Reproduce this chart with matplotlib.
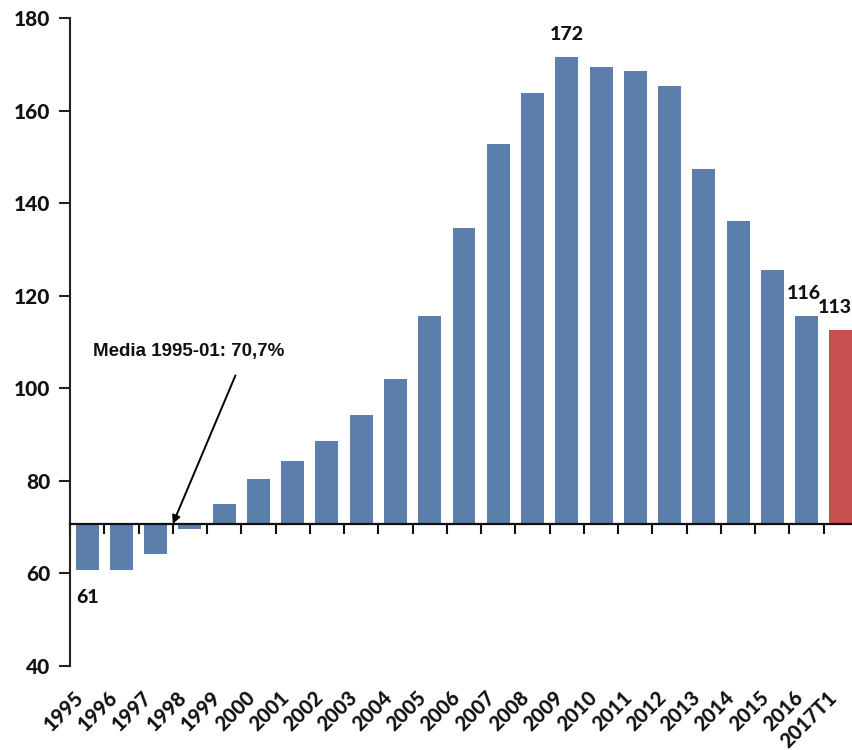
import matplotlib.pyplot as plt
import matplotlib.transforms as mtransforms
import numpy as np

# ratio values by period, baseline = 1995-01 average
years = ["1995", "1996", "1997", "1998", "1999", "2000", "2001", "2002",
         "2003", "2004", "2005", "2006", "2007", "2008", "2009", "2010",
         "2011", "2012", "2013", "2014", "2015", "2016", "2017T1"]
values = [60.8, 60.8, 64.3, 69.6, 75.1, 80.3, 84.2, 88.7, 94.3, 102.0,
          115.6, 134.6, 152.7, 163.8, 171.6, 169.4, 168.5, 165.3, 147.3,
          136.1, 125.6, 115.7, 112.6]
baseline = 70.7
labelled = {"2009": "172", "2016": "116", "2017T1": "113", "1995": "61"}

BLUE, RED, INK = "#5b7faa", "#c6504e", "#111111"
FONT = "Lato"
WEIGHT = 900

fig = plt.figure(figsize=(8.52, 7.5), dpi=100)
ax = fig.add_axes([70 / 852, 84 / 750, 788 / 852, 648 / 750])

x = np.arange(len(years))
colors = [BLUE] * (len(years) - 1) + [RED]
heights = [v - baseline for v in values]
ax.bar(x, heights, bottom=baseline, width=0.67, color=colors, zorder=2)

ax.set_xlim(-0.5, len(years) - 0.5)
ax.set_ylim(40, 180)
ax.set_yticks(np.arange(40, 181, 20))
ax.set_yticklabels([str(v) for v in range(40, 181, 20)],
                   fontfamily=FONT, fontweight=WEIGHT, fontsize=15, color=INK)

ax.spines[["top", "right"]].set_visible(False)
ax.spines["left"].set_linewidth(1.5)
ax.spines["left"].set_color("#222222")
ax.spines["bottom"].set_position(("data", baseline))
ax.spines["bottom"].set_linewidth(1.6)
ax.spines["bottom"].set_color("#111111")
ax.spines["bottom"].set_zorder(3)
ax.tick_params(axis="y", length=8, width=1.5, color="#222222", pad=6)
ax.set_xticks(np.arange(-0.5, len(years) - 0.5, 1.0))
ax.set_xticklabels([])
ax.tick_params(axis="x", length=7, width=1.5, color="#111111", direction="out")

# category labels below the plot area
trans = mtransforms.blended_transform_factory(ax.transData, ax.transAxes)
for i, lab in enumerate(years):
    ax.text(i - 0.2, -0.044, lab, transform=trans, rotation=45,
            rotation_mode="anchor", ha="right", va="center",
            fontfamily=FONT, fontweight=WEIGHT, fontsize=14.5, color=INK)

# value labels
for i, lab in enumerate(years):
    if lab in labelled:
        v = values[i]
        dx = {"2017T1": -4, "2016": -2}.get(lab, 0)
        dy = -20 if v < baseline else 16
        ax.annotate(labelled[lab], (i, v), textcoords="offset points",
                    xytext=(dx, dy), ha="center", va="center",
                    fontfamily=FONT, fontweight=WEIGHT, fontsize=14, color=INK)

ax.annotate("", xy=(2.5, baseline), xytext=(4.33, 102.8),
            arrowprops=dict(arrowstyle="-|>", color="black", lw=1.4,
                            mutation_scale=12, shrinkA=0, shrinkB=0))
ax.text(0.16, 108, "Media 1995-01: 70,7%", ha="left", va="center",
        fontfamily="Liberation Sans", fontweight="bold", fontsize=13.5, color=INK)

fig.savefig("out.png", dpi=100, facecolor="white")
